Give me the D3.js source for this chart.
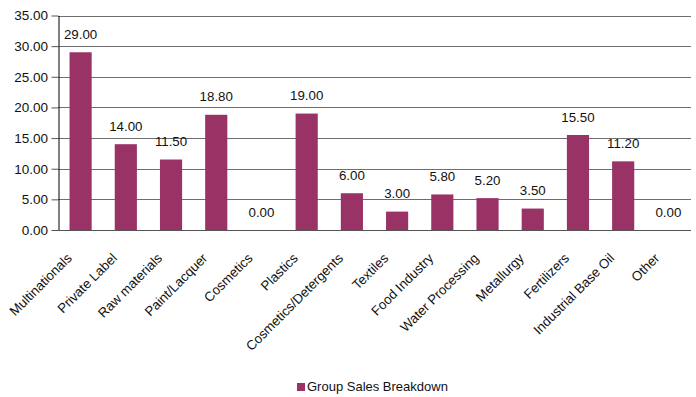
<!DOCTYPE html>
<html>
<head>
<meta charset="utf-8">
<script src="https://cdn.jsdelivr.net/npm/d3@7"></script>
<style>
  html, body { margin: 0; padding: 0; background: #fff; }
  svg { display: block; font-family: "Liberation Sans", Arial, sans-serif; }
</style>
</head>
<body>
<svg id="chart" width="696" height="397"></svg>
<script>
// Group sales breakdown by segment
const categories = ["Multinationals", "Private Label", "Raw materials", "Paint/Lacquer", "Cosmetics",
  "Plastics", "Cosmetics/Detergents", "Textiles", "Food Industry", "Water Processing",
  "Metallurgy", "Fertilizers", "Industrial Base Oil", "Other"];
const salesValues = [29.00, 14.00, 11.50, 18.80, 0.00, 19.00, 6.00, 3.00, 5.80, 5.20, 3.50, 15.50, 11.20, 0.00];
const yTicks = [0, 5, 10, 15, 20, 25, 30, 35];
const seriesName = "Group Sales Breakdown";

const barColor = "#993366";
const svg = d3.select("#chart");

const plot = { left: 58, right: 691, top: 15.5, bottom: 230 };

const x = d3.scaleBand()
  .domain(categories)
  .range([plot.left, plot.right])
  .paddingInner(0.51)
  .paddingOuter(0.255);

const y = d3.scaleLinear()
  .domain([0, 35])
  .range([plot.bottom, plot.top]);

// horizontal gridlines
svg.append("g")
  .selectAll("line")
  .data(yTicks.filter(d => d > 0))
  .join("line")
  .attr("x1", plot.left)
  .attr("x2", plot.right)
  .attr("y1", d => Math.round(y(d)) + 0.5)
  .attr("y2", d => Math.round(y(d)) + 0.5)
  .attr("stroke", "#6e6e6e")
  .attr("stroke-width", 1);

// bars
svg.append("g")
  .selectAll("rect")
  .data(salesValues)
  .join("rect")
  .attr("x", (d, i) => x(categories[i]))
  .attr("width", x.bandwidth())
  .attr("y", d => y(d))
  .attr("height", d => y(0) - y(d))
  .attr("fill", barColor);

// value labels
svg.append("g")
  .selectAll("text")
  .data(salesValues)
  .join("text")
  .attr("x", (d, i) => x(categories[i]) + x.bandwidth() / 2)
  .attr("y", d => y(d) - 13.5)
  .attr("text-anchor", "middle")
  .attr("font-size", 13.3)
  .attr("fill", "#111")
  .text(d => d.toFixed(2));

// y axis
const yAxis = d3.axisLeft(y)
  .tickValues(yTicks)
  .tickFormat(d => d.toFixed(2))
  .tickSizeInner(7)
  .tickSizeOuter(0)
  .tickPadding(3.5);

const yG = svg.append("g")
  .attr("transform", `translate(${plot.left + 0.5},0)`)
  .call(yAxis);
yG.select(".domain").attr("stroke", "#000");
yG.selectAll(".tick line").attr("stroke", "#555");
yG.selectAll(".tick text")
  .attr("font-size", 13.5)
  .attr("font-family", "'Liberation Sans', Arial, sans-serif")
  .attr("fill", "#111");

// x baseline
svg.append("line")
  .attr("x1", plot.left)
  .attr("x2", plot.right)
  .attr("y1", Math.round(y(0)) + 0.5)
  .attr("y2", Math.round(y(0)) + 0.5)
  .attr("stroke", "#555");

// rotated category labels
svg.append("g")
  .selectAll("text")
  .data(categories)
  .join("text")
  .attr("transform", d => `translate(${x(d) + x.bandwidth() / 2 - 8},${y(0) + 29}) rotate(-45)`)
  .attr("text-anchor", "end")
  .attr("font-size", 13.3)
  .attr("fill", "#111")
  .text(d => d);

// legend
const legend = svg.append("g").attr("transform", "translate(297,383)");
legend.append("rect")
  .attr("width", 8)
  .attr("height", 8)
  .attr("fill", barColor);
legend.append("text")
  .attr("x", 10)
  .attr("y", 8)
  .attr("font-size", 13)
  .attr("fill", "#111")
  .text(seriesName);
</script>
</body>
</html>
